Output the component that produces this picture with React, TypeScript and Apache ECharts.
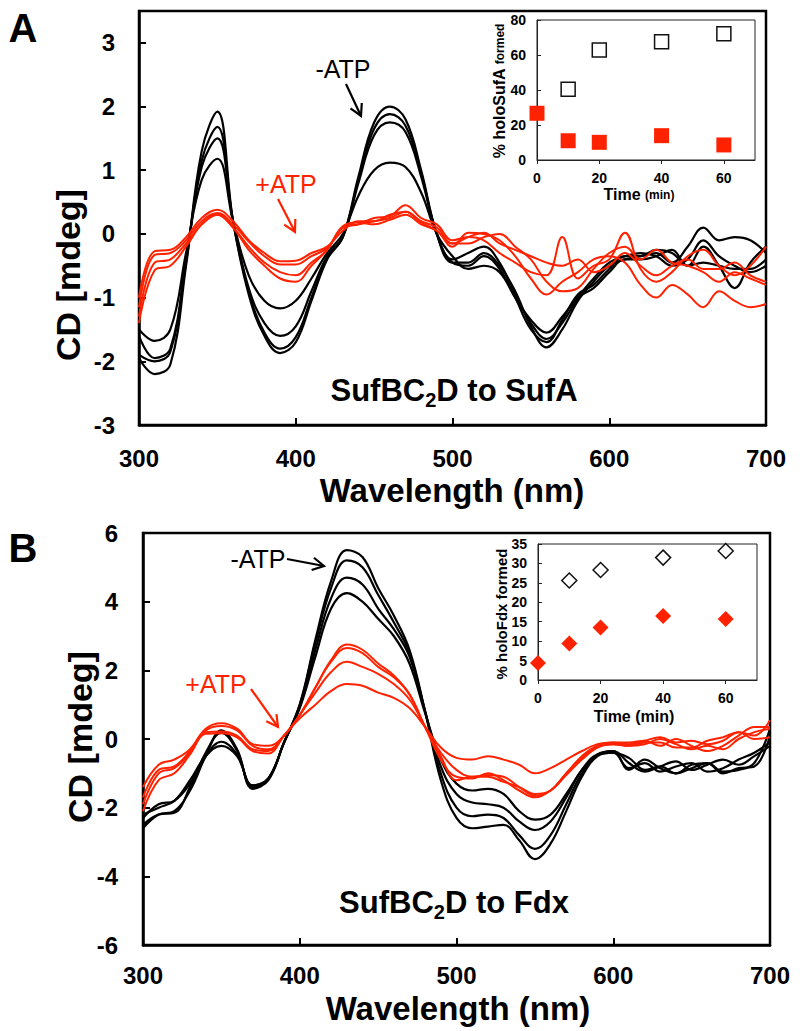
import React, { useEffect, useRef } from "react";
import * as echarts from "echarts";

// ---------- DATA ----------
const wavelength = [300, 310, 320, 330, 340, 350, 360, 370, 380, 390, 400, 410, 420, 430, 440, 450, 460, 470, 480, 490, 500,
  510, 520, 530, 540, 550, 560, 570, 580, 590, 600, 610, 620, 630, 640, 650, 660, 670, 680, 690, 700];

// Panel A: SufBC2D to SufA  (-ATP black, +ATP red)
const sufA_noATP_1 = [-1.95, -2.2, -2.05, -0.5, 1.3, 1.92, 0.2, -0.95, -1.6, -1.87, -1.7, -1.05, -0.4, -0.05, 0.9, 1.75, 2.0, 1.8, 1.0, 0.0, -0.45,
  -0.45, -0.3, -0.5, -0.9, -1.45, -1.78, -1.5, -1.05, -0.75, -0.5, -0.4, -0.35, -0.3, -0.45, -0.2, 0.1, -0.1, -0.05, -0.1, -0.3];
const sufA_noATP_2 = [-1.9, -2.0, -1.85, -0.45, 1.15, 1.68, 0.2, -0.9, -1.55, -1.8, -1.62, -1.0, -0.38, -0.05, 0.85, 1.65, 1.88, 1.7, 0.95, 0.0, -0.45,
  -0.5, -0.35, -0.55, -1.0, -1.5, -1.7, -1.35, -0.95, -0.8, -0.55, -0.35, -0.35, -0.25, -0.3, -0.5, -0.2, -0.5, -0.85, -0.45, -0.2];
const sufA_noATP_3 = [-1.6, -1.95, -1.8, -0.4, 1.05, 1.5, 0.2, -0.85, -1.4, -1.6, -1.45, -0.9, -0.35, -0.05, 0.8, 1.55, 1.75, 1.6, 0.9, 0.0, -0.4,
  -0.3, -0.2, -0.45, -0.95, -1.4, -1.65, -1.4, -1.0, -0.7, -0.45, -0.35, -0.3, -0.35, -0.5, -0.4, -0.1, -0.35, -0.5, -0.6, -0.5];
const sufA_noATP_4 = [-1.5, -1.68, -1.5, -0.3, 0.85, 1.18, 0.2, -0.65, -1.05, -1.17, -1.05, -0.7, -0.3, 0.0, 0.6, 1.0, 1.12, 1.05, 0.65, 0.0, -0.35,
  -0.55, -0.5, -0.6, -1.0, -1.35, -1.55, -1.3, -1.0, -0.85, -0.6, -0.4, -0.4, -0.35, -0.25, -0.5, -0.45, -0.5, -0.55, -0.55, -0.4];
const sufA_ATP_1 = [-1.0, -0.27, -0.25, -0.05, 0.25, 0.38, 0.2, -0.1, -0.3, -0.43, -0.42, -0.3, -0.2, 0.05, 0.2, 0.2, 0.3, 0.35, 0.2, 0.1, -0.15,
  -0.05, 0.02, -0.15, -0.25, -0.35, -0.45, -0.5, -0.4, -0.6, -0.5, -0.3, -0.5, -0.65, -0.5, -0.4, -0.55, -0.55, -0.45, -0.65, -0.75];
const sufA_ATP_2 = [-1.15, -0.33, -0.3, -0.1, 0.2, 0.33, 0.15, -0.12, -0.35, -0.48, -0.48, -0.35, -0.22, 0.1, 0.15, 0.25, 0.28, 0.45, 0.25, 0.15, -0.1,
  -0.05, -0.1, -0.3, -0.45, -0.6, -0.65, -0.05, -0.7, -0.5, -0.4, 0.02, -0.55, -0.75, -0.6, -0.35, -0.25, -0.5, -0.65, -0.5, -0.2];
const sufA_ATP_3 = [-1.3, -0.45, -0.4, -0.15, 0.15, 0.3, 0.1, -0.2, -0.45, -0.6, -0.65, -0.45, -0.25, 0.12, 0.18, 0.15, 0.22, 0.3, 0.15, 0.05, -0.2,
  0.02, 0.0, -0.1, -0.35, -0.7, -0.95, -0.75, -0.6, -0.4, -0.35, -0.45, -0.8, -1.0, -0.8, -0.95, -1.15, -0.9, -1.05, -1.15, -1.1];
const sufA_ATP_4 = [-1.4, -0.57, -0.5, -0.2, 0.15, 0.3, 0.1, -0.25, -0.5, -0.7, -0.75, -0.5, -0.25, 0.1, 0.15, 0.2, 0.25, 0.35, 0.18, 0.05, -0.15,
  -0.15, -0.05, 0.0, -0.2, -0.4, -0.75, -0.9, -0.85, -0.55, -0.3, -0.2, -0.4, -0.25, -0.45, -0.5, -0.6, -0.75, -0.6, -0.7, -0.8];

// Panel B: SufBC2D to Fdx
const fdx_noATP_1 = [-2.6, -2.2, -2.1, -1.5, -0.5, 0.25, -0.3, -1.45, -1.2, -0.1, 1.0, 2.9, 4.6, 5.5, 5.3, 4.4, 3.6, 2.6, 0.8, -1.2, -2.3,
  -2.6, -2.55, -2.5, -2.95, -3.5, -3.05, -2.1, -1.1, -0.5, -0.4, -0.85, -0.7, -0.95, -0.8, -0.7, -0.95, -0.85, -0.6, -0.4, -0.1];
const fdx_noATP_2 = [-2.5, -2.2, -2.15, -1.4, -0.4, 0.18, -0.35, -1.4, -1.15, -0.1, 1.0, 2.8, 4.4, 5.2, 5.0, 4.2, 3.4, 2.5, 0.8, -1.0, -2.0,
  -2.25, -2.2, -2.3, -2.8, -3.2, -2.8, -1.9, -1.0, -0.45, -0.35, -0.9, -0.6, -0.85, -1.0, -0.75, -0.7, -0.95, -0.9, -0.7, 0.3];
const fdx_noATP_3 = [-2.3, -1.9, -1.8, -1.3, -0.5, -0.08, -0.45, -1.35, -1.15, -0.1, 0.95, 2.6, 4.1, 4.7, 4.5, 3.8, 3.2, 2.4, 0.8, -0.8, -1.6,
  -1.85, -1.9, -2.0, -2.4, -2.65, -2.4, -1.7, -0.9, -0.45, -0.35, -0.7, -0.95, -0.8, -0.65, -0.9, -0.75, -0.6, -0.75, -0.5, -0.2];
const fdx_noATP_4 = [-2.2, -2.0, -1.8, -1.2, -0.5, -0.2, -0.5, -1.35, -1.15, -0.1, 0.9, 2.4, 3.8, 4.25, 4.0, 3.5, 3.0, 2.2, 0.75, -0.6, -1.3,
  -1.5, -1.45, -1.6, -2.1, -2.35, -2.2, -1.6, -0.9, -0.45, -0.4, -0.55, -0.9, -0.8, -1.0, -0.85, -0.7, -1.0, -0.85, -0.8, 0.1];
const fdx_ATP_1 = [-1.4, -0.75, -0.6, -0.3, 0.3, 0.46, 0.3, -0.15, -0.2, 0.1, 0.7, 1.5, 2.3, 2.75, 2.6, 2.2, 1.85, 1.3, 0.35, -0.4, -0.9,
  -1.1, -1.05, -1.1, -1.4, -1.65, -1.5, -1.05, -0.6, -0.25, -0.15, -0.2, -0.15, 0.0, -0.15, -0.3, -0.2, -0.3, 0.0, 0.2, 0.3];
const fdx_ATP_2 = [-1.7, -0.9, -0.8, -0.35, 0.25, 0.38, 0.25, -0.2, -0.3, 0.1, 0.7, 1.5, 2.25, 2.65, 2.5, 2.1, 1.8, 1.3, 0.35, -0.6, -1.1,
  -1.15, -1.0, -1.2, -1.5, -1.7, -1.5, -1.0, -0.55, -0.2, -0.1, -0.1, -0.05, -0.2, 0.0, -0.2, -0.35, -0.2, 0.1, 0.35, 0.35];
const fdx_ATP_3 = [-1.9, -1.0, -0.85, -0.4, 0.2, 0.22, 0.1, -0.3, -0.35, 0.1, 0.7, 1.35, 1.95, 2.25, 2.1, 1.9, 1.6, 1.15, 0.35, -0.5, -1.2,
  -1.1, -1.1, -1.25, -1.4, -1.6, -1.5, -1.0, -0.5, -0.2, -0.15, -0.2, -0.1, -0.1, -0.25, -0.25, -0.05, 0.05, 0.2, 0.1, 0.55];
const fdx_ATP_4 = [-2.1, -1.2, -1.0, -0.45, 0.15, 0.17, 0.05, -0.35, -0.42, 0.1, 0.6, 1.0, 1.4, 1.6, 1.55, 1.35, 1.2, 0.9, 0.35, -0.25, -0.55,
  -0.6, -0.5, -0.6, -0.75, -1.0, -0.85, -0.6, -0.35, -0.15, -0.1, -0.15, -0.05, 0.05, -0.1, -0.05, -0.15, -0.05, 0.2, 0.0, 0.05];

// Insets
const timeAll = [0, 10, 20, 40, 60];
const timeNoZero = [10, 20, 40, 60];
const holoSufA_noATP = [40.4, 62.9, 67.6, 72.2];
const holoSufA_ATP = [26.7, 11, 10.1, 13.9, 8.6];
const holoFdx_noATP = [25.6, 28.3, 31.5, 33.2];
const holoFdx_ATP = [4.4, 9.4, 13.5, 16.5, 15.7];

const mainXTicks = [300, 400, 500, 600, 700];
const mainAYTicks = [-3, -2, -1, 0, 1, 2, 3];
const mainBYTicks = [-6, -4, -2, 0, 2, 4, 6];
const insetXTicks = [0, 20, 40, 60];

// ---------- STYLE ----------
const FONT = "'Liberation Sans', Arial, Helvetica, sans-serif";
const RED = "#ff2200";
const BLACK = "#000000";

function pairs(xs: number[], ys: number[]) {
  return xs.map((x, i) => [x, ys[i]]);
}

let measureCtx: CanvasRenderingContext2D | null = null;
function measure(text: string, size: number, weight = "bold") {
  if (!measureCtx) measureCtx = document.createElement("canvas").getContext("2d");
  measureCtx!.font = `${weight} ${size}px ${FONT}`;
  return measureCtx!.measureText(text).width;
}

function txt(x: number, y: number, text: string, size: number, opts: any = {}) {
  return {
    type: "text",
    x,
    y,
    rotation: opts.rotation || 0,
    z: 100,
    style: {
      text,
      fontSize: size,
      fontWeight: opts.weight || "bold",
      fontFamily: FONT,
      fill: opts.color || BLACK,
      align: opts.align || "center",
      verticalAlign: "middle",
    },
  };
}

// Horizontal multi-part text (baseline aligned), centred at cx,cy
function hParts(cx: number, cy: number, parts: { t: string; s: number; dy?: number }[]) {
  const big = Math.max(...parts.map((p) => p.s));
  const ws = parts.map((p) => measure(p.t, p.s));
  const total = ws.reduce((a, b) => a + b, 0);
  let x = cx - total / 2;
  const out: any[] = [];
  parts.forEach((p, i) => {
    const dy = p.dy !== undefined ? p.dy : (big - p.s) * 0.33;
    out.push(txt(x, cy + dy, p.t, p.s, { align: "left" }));
    x += ws[i];
  });
  return out;
}

// Vertical (rotated, reading upward) multi-part text centred at cx,cy
function vParts(cx: number, cy: number, parts: { t: string; s: number }[]) {
  const big = Math.max(...parts.map((p) => p.s));
  const ws = parts.map((p) => measure(p.t, p.s));
  const total = ws.reduce((a, b) => a + b, 0);
  let y = cy + total / 2;
  const out: any[] = [];
  parts.forEach((p, i) => {
    const dx = (big - p.s) * 0.33;
    out.push(txt(cx + dx, y - ws[i] / 2, p.t, p.s, { rotation: Math.PI / 2 }));
    y -= ws[i];
  });
  return out;
}

function arrow(x1: number, y1: number, x2: number, y2: number, color: string) {
  const a = Math.atan2(y2 - y1, x2 - x1);
  const L = 13;
  const sp = 0.5;
  return [
    { type: "line", z: 100, shape: { x1, y1, x2, y2 }, style: { stroke: color, lineWidth: 2.2 } },
    {
      type: "polyline",
      z: 100,
      shape: {
        points: [
          [x2 - L * Math.cos(a - sp), y2 - L * Math.sin(a - sp)],
          [x2, y2],
          [x2 - L * Math.cos(a + sp), y2 - L * Math.sin(a + sp)],
        ],
      },
      style: { stroke: color, lineWidth: 2.2, fill: "none" },
    },
  ];
}

function lineSeries(idx: number, ys: number[], color: string, width: number) {
  return {
    type: "line",
    xAxisIndex: idx,
    yAxisIndex: idx,
    data: pairs(wavelength, ys),
    showSymbol: false,
    smooth: 0.4,
    lineStyle: { color, width },
    itemStyle: { color },
    silent: true,
    z: color === RED ? 4 : 3,
  };
}

function mainX(grid: number, margin: number) {
  return {
    gridIndex: grid,
    type: "value",
    min: 300,
    max: 700,
    interval: 100,
    axisLine: { show: true, onZero: false, lineStyle: { color: BLACK, width: 2.5 } },
    axisTick: { show: true, inside: true, length: 7, lineStyle: { color: BLACK, width: 2 }, customValues: mainXTicks },
    axisLabel: { fontSize: 24, fontWeight: "bold", color: BLACK, fontFamily: FONT, margin, customValues: mainXTicks },
    splitLine: { show: false },
  };
}

function mainY(grid: number, min: number, max: number, interval: number, ticks: number[], margin: number) {
  return {
    gridIndex: grid,
    type: "value",
    min,
    max,
    interval,
    axisLine: { show: true, onZero: false, lineStyle: { color: BLACK, width: 2.5 } },
    axisTick: { show: true, inside: true, length: 7, lineStyle: { color: BLACK, width: 2 }, customValues: ticks },
    axisLabel: {
      fontSize: 24,
      fontWeight: "bold",
      color: BLACK,
      fontFamily: FONT,
      margin,
      customValues: ticks,
      formatter: (v: number) => (ticks.indexOf(v) >= 0 ? String(v) : ""),
    },
    splitLine: { show: false },
  };
}

function insetX(grid: number) {
  return {
    gridIndex: grid,
    type: "value",
    min: 0,
    max: 70,
    interval: 20,
    axisLine: { show: true, onZero: false, lineStyle: { color: "#222", width: 1 } },
    axisTick: { show: true, inside: false, length: 4, lineStyle: { color: "#222", width: 1 }, customValues: insetXTicks },
    axisLabel: {
      fontSize: 14,
      fontWeight: "bold",
      color: BLACK,
      fontFamily: FONT,
      margin: 11,
      customValues: insetXTicks,
      formatter: (v: number) => (insetXTicks.indexOf(v) >= 0 ? String(v) : ""),
    },
    splitLine: { show: false },
  };
}

function insetY(grid: number, max: number, interval: number) {
  return {
    gridIndex: grid,
    type: "value",
    min: 0,
    max,
    interval,
    axisLine: { show: true, onZero: false, lineStyle: { color: "#222", width: 1 } },
    axisTick: { show: true, inside: true, length: 4, lineStyle: { color: "#222", width: 1 } },
    axisLabel: { fontSize: 14, fontWeight: "bold", color: BLACK, fontFamily: FONT, margin: 11 },
    splitLine: { show: false },
  };
}

function buildOption() {
  const graphic: any[] = [
    txt(23, 28, "A", 40),
    txt(23, 548, "B", 40),
    txt(68, 275, "CD [mdeg]", 34, { rotation: Math.PI / 2 }),
    txt(80, 737, "CD [mdeg]", 34, { rotation: Math.PI / 2 }),
    txt(452, 490, "Wavelength (nm)", 33),
    txt(458, 1008, "Wavelength (nm)", 33),
    ...hParts(454, 390, [
      { t: "SufBC", s: 31 },
      { t: "2", s: 20, dy: 10 },
      { t: "D to SufA", s: 31 },
    ]),
    ...hParts(454, 902, [
      { t: "SufBC", s: 31 },
      { t: "2", s: 20, dy: 10 },
      { t: "D to Fdx", s: 31 },
    ]),
    // annotations
    txt(343, 69, "-ATP", 25, { weight: "normal" }),
    ...arrow(346, 84, 361, 116, BLACK),
    txt(286, 184, "+ATP", 25, { weight: "normal", color: RED }),
    ...arrow(278, 199, 295, 232, RED),
    txt(258, 559, "-ATP", 25, { weight: "normal" }),
    ...arrow(287, 559, 324, 566, BLACK),
    txt(216, 684, "+ATP", 25, { weight: "normal", color: RED }),
    ...arrow(251, 689, 278, 727, RED),
    // inset labels
    ...vParts(499, 91, [
      { t: "% holoSufA ", s: 16 },
      { t: "formed", s: 12 },
    ]),
    ...hParts(639, 194, [
      { t: "Time ", s: 16 },
      { t: "(min)", s: 12 },
    ]),
    ...vParts(501, 614, [{ t: "% holoFdx formed", s: 15 }]),
    ...hParts(634, 716, [{ t: "Time (min)", s: 16 }]),
  ];

  return {
    animation: false,
    backgroundColor: "#ffffff",
    textStyle: { fontFamily: FONT },
    grid: [
      { left: 139, top: 11, width: 627, height: 414, show: true, borderColor: BLACK, borderWidth: 2.5, backgroundColor: "transparent" },
      { left: 537, top: 20, width: 218, height: 140, show: true, borderColor: "#222", borderWidth: 1, backgroundColor: "transparent" },
      { left: 143, top: 533, width: 627, height: 412, show: true, borderColor: BLACK, borderWidth: 2.5, backgroundColor: "transparent" },
      { left: 538, top: 544, width: 219, height: 136, show: true, borderColor: "#222", borderWidth: 1, backgroundColor: "transparent" },
    ],
    xAxis: [mainX(0, 21), insetX(1), mainX(2, 18), insetX(3)],
    yAxis: [
      mainY(0, -3, 3.5, 1, mainAYTicks, 24),
      insetY(1, 80, 20),
      mainY(2, -6, 6, 2, mainBYTicks, 25),
      insetY(3, 35, 5),
    ],
    series: [
      lineSeries(0, sufA_noATP_1, BLACK, 2.2),
      lineSeries(0, sufA_noATP_2, BLACK, 2.2),
      lineSeries(0, sufA_noATP_3, BLACK, 2.2),
      lineSeries(0, sufA_noATP_4, BLACK, 2.2),
      lineSeries(0, sufA_ATP_1, RED, 2),
      lineSeries(0, sufA_ATP_2, RED, 2),
      lineSeries(0, sufA_ATP_3, RED, 2),
      lineSeries(0, sufA_ATP_4, RED, 2),
      lineSeries(2, fdx_noATP_1, BLACK, 2.2),
      lineSeries(2, fdx_noATP_2, BLACK, 2.2),
      lineSeries(2, fdx_noATP_3, BLACK, 2.2),
      lineSeries(2, fdx_noATP_4, BLACK, 2.2),
      lineSeries(2, fdx_ATP_1, RED, 2),
      lineSeries(2, fdx_ATP_2, RED, 2),
      lineSeries(2, fdx_ATP_3, RED, 2),
      lineSeries(2, fdx_ATP_4, RED, 2),
      {
        type: "scatter",
        xAxisIndex: 1,
        yAxisIndex: 1,
        data: pairs(timeAll, holoSufA_ATP),
        symbol: "rect",
        symbolSize: 15,
        itemStyle: { color: RED, opacity: 1 },
        silent: true,
      },
      {
        type: "scatter",
        xAxisIndex: 1,
        yAxisIndex: 1,
        data: pairs(timeNoZero, holoSufA_noATP),
        symbol: "rect",
        symbolSize: 14,
        itemStyle: { color: "#ffffff", borderColor: "#111", borderWidth: 1.5, opacity: 1 },
        silent: true,
      },
      {
        type: "scatter",
        xAxisIndex: 3,
        yAxisIndex: 3,
        data: pairs(timeAll, holoFdx_ATP),
        symbol: "diamond",
        symbolSize: 16,
        itemStyle: { color: RED, opacity: 1 },
        silent: true,
      },
      {
        type: "scatter",
        xAxisIndex: 3,
        yAxisIndex: 3,
        data: pairs(timeNoZero, holoFdx_noATP),
        symbol: "diamond",
        symbolSize: 15,
        itemStyle: { color: "#ffffff", borderColor: "#111", borderWidth: 1.5, opacity: 1 },
        silent: true,
      },
    ],
    graphic,
  };
}

export default function App() {
  const ref = useRef<HTMLDivElement>(null);
  useEffect(() => {
    document.body.style.margin = "0";
    const chart = echarts.init(ref.current!, null, { renderer: "svg" });
    chart.setOption(buildOption() as any);
    return () => chart.dispose();
  }, []);
  return (
    <div
      ref={ref}
      style={{ position: "fixed", left: 0, top: 0, width: 800, height: 1031, background: "#ffffff" }}
    />
  );
}
